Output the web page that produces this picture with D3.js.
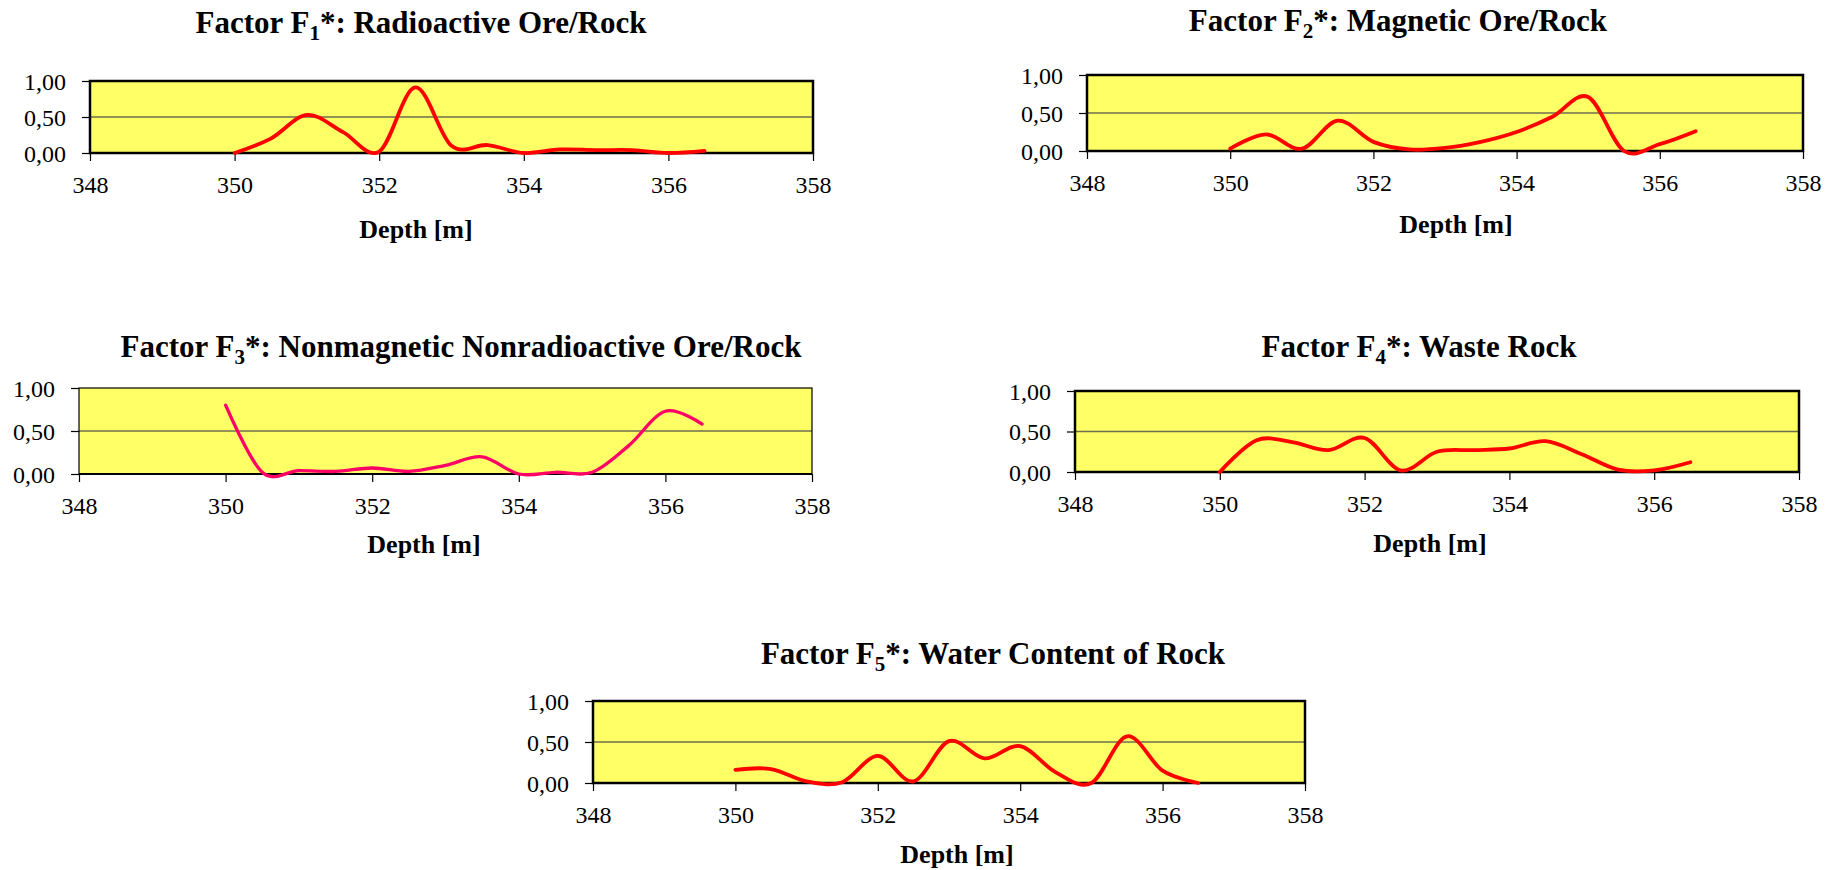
<!DOCTYPE html>
<html>
<head>
<meta charset="utf-8">
<script src="https://cdn.jsdelivr.net/npm/d3@7"></script>
<style>
	html, body { margin: 0; padding: 0; background: #fff; }
	svg { display: block; }
	svg text { font-family: "Liberation Serif", "Times New Roman", Times, "DejaVu Serif", serif !important; fill: #000; }
</style>
</head>
<body>
<svg id="chart" width="1838" height="870"></svg>
<script>
// --------- Data --------- //
var depth = [350, 350.5, 351, 351.5, 352, 352.5, 353, 353.5, 354, 354.5, 355, 355.5, 356, 356.5];

var f1 = [0.00, 0.20, 0.53, 0.29, 0.02, 0.91, 0.10, 0.11, 0.00, 0.05, 0.04, 0.04, 0.00, 0.03];
var f2 = [0.03, 0.22, 0.03, 0.40, 0.12, 0.02, 0.04, 0.12, 0.25, 0.45, 0.71, 0.00, 0.09, 0.26];
var f3 = [0.80, 0.02, 0.04, 0.03, 0.07, 0.03, 0.10, 0.20, 0.00, 0.02, 0.02, 0.33, 0.73, 0.58];
var f4 = [0.00, 0.39, 0.37, 0.27, 0.42, 0.02, 0.25, 0.27, 0.29, 0.38, 0.22, 0.03, 0.02, 0.12];
var f5 = [0.16, 0.17, 0.02, 0.01, 0.33, 0.02, 0.51, 0.30, 0.45, 0.13, 0.00, 0.57, 0.15, 0.00];

var factorNums = ["1", "2", "3", "4", "5"];
var factorNames = ["Radioactive Ore/Rock", "Magnetic Ore/Rock", "Nonmagnetic Nonradioactive Ore/Rock", "Waste Rock", "Water Content of Rock"];
var xTicks = [348, 350, 352, 354, 356, 358];
var yTicks = [0, 0.5, 1];
var xDomain = [348, 358];
var yDomain = [0, 1];
var xTitle = "Depth [m]";

// --------- Layout (pixels) --------- //
var panels = [
	{values: f1, left: 90, right: 813, top: 81, bottom: 153, titleX: 421, titleY: 33, axisX: 416, axisY: 238, color: "#FF0000", frame: 2.5, lw: 3.8},
	{values: f2, left: 1087, right: 1803, top: 75, bottom: 151, titleX: 1398, titleY: 31, axisX: 1456, axisY: 233, color: "#FF0000", frame: 2.5, lw: 3.8},
	{values: f3, left: 79, right: 812, top: 388, bottom: 474, titleX: 461, titleY: 357, axisX: 424, axisY: 553, color: "#FF0066", frame: 1.2, lw: 3.3},
	{values: f4, left: 1075, right: 1799, top: 391, bottom: 472, titleX: 1419, titleY: 357, axisX: 1430, axisY: 552, color: "#FF0000", frame: 2.5, lw: 3.8},
	{values: f5, left: 593, right: 1305, top: 701, bottom: 783, titleX: 993, titleY: 664, axisX: 957, axisY: 863, color: "#FF0000", frame: 2.5, lw: 3.8}
];

var FONT = '"Liberation Serif", "Times New Roman", Times, serif';
var svg = d3.select("#chart");
var fmtY = function(v){ return d3.format(".2f")(v).replace(".", ","); };

panels.forEach(function(p, i){
	var g = svg.append("g").attr("font-family", FONT);

	var x = d3.scaleLinear().domain(xDomain).range([p.left, p.right]);
	var y = d3.scaleLinear().domain(yDomain).range([p.bottom, p.top]);

	// plot area
	g.append("rect")
		.attr("x", p.left).attr("y", p.top)
		.attr("width", p.right - p.left).attr("height", p.bottom - p.top)
		.attr("fill", "#FFFF66");

	// gridline at 0,50
	g.append("line")
		.attr("x1", p.left).attr("x2", p.right)
		.attr("y1", y(0.5)).attr("y2", y(0.5))
		.attr("stroke", "#6e6e50").attr("stroke-width", 1.3);

	// axes
	var yAxis = g.append("g")
		.attr("transform", "translate(" + p.left + ",0)")
		.call(d3.axisLeft(y).tickValues(yTicks).tickSize(8).tickPadding(16).tickFormat(fmtY));
	var xAxis = g.append("g")
		.attr("transform", "translate(0," + p.bottom + ")")
		.call(d3.axisBottom(x).tickValues(xTicks).tickSize(8).tickFormat(d3.format("d")));

	[yAxis, xAxis].forEach(function(a){
		a.attr("font-family", FONT).attr("font-size", 24);
		a.select(".domain").remove();
		a.selectAll(".tick line").attr("stroke", "#000").attr("stroke-width", 1.2);
		a.selectAll("text").style("font-family", FONT).style("font-size", "24px").attr("fill", "#000");
	});
	yAxis.selectAll("text").attr("dy", "0.35em");
	xAxis.selectAll("text").attr("y", 40).attr("dy", null);

	// frame
	g.append("rect")
		.attr("x", p.left).attr("y", p.top)
		.attr("width", p.right - p.left).attr("height", p.bottom - p.top)
		.attr("fill", "none").attr("stroke", "#000").attr("stroke-width", p.frame);
	if (p.frame < 2){
		g.append("line")
			.attr("x1", p.left).attr("x2", p.right)
			.attr("y1", p.bottom).attr("y2", p.bottom)
			.attr("stroke", "#000").attr("stroke-width", 2);
	}

	// smoothed line (Excel-like)
	var line = d3.line()
		.x(function(d, k){ return x(depth[k]); })
		.y(function(d){ return y(d); })
		.curve(d3.curveCardinal.tension(0));

	g.append("path")
		.datum(p.values)
		.attr("d", line)
		.attr("fill", "none")
		.attr("stroke", p.color)
		.attr("stroke-width", p.lw)
		.attr("stroke-linejoin", "round")
		.attr("stroke-linecap", "round");

	// title with subscript
	var t = g.append("text")
		.attr("x", p.titleX).attr("y", p.titleY)
		.attr("text-anchor", "middle")
		.style("font-family", FONT)
		.style("font-size", "31px").style("font-weight", "bold");
	t.append("tspan").text("Factor F");
	t.append("tspan").attr("dy", 7).style("font-size", "21px").text(factorNums[i]);
	t.append("tspan").attr("dy", -7).text("*: " + factorNames[i]);

	// x axis title
	g.append("text")
		.attr("x", p.axisX).attr("y", p.axisY)
		.attr("text-anchor", "middle")
		.style("font-family", FONT)
		.style("font-size", "26px").style("font-weight", "bold")
		.text(xTitle);
});
</script>
</body>
</html>
